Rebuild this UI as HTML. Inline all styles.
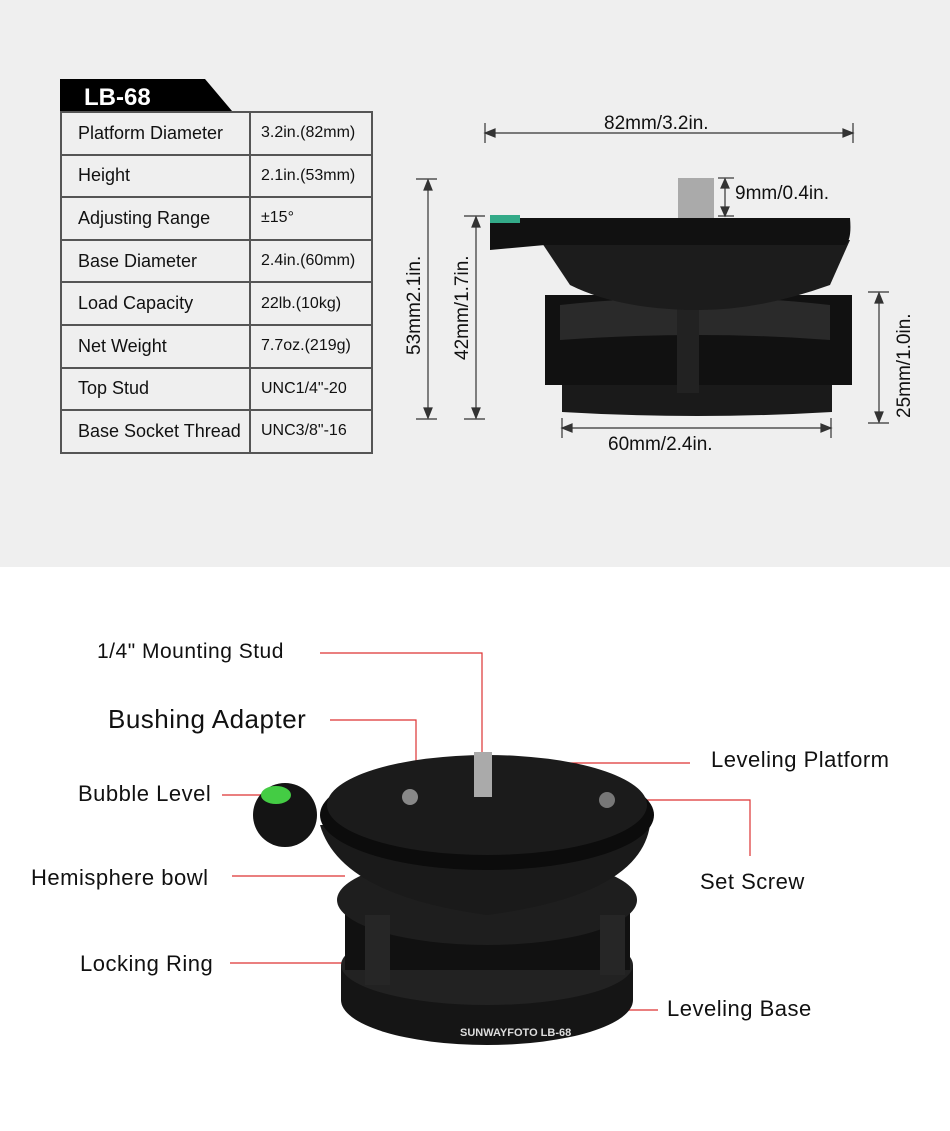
<!DOCTYPE html>
<html><head><style>
body{margin:0;width:950px;height:1131px;background:#fff;font-family:"Liberation Sans",sans-serif;position:relative;overflow:hidden}
.top{position:absolute;left:0;top:0;width:950px;height:567px;background:#efefef}
table{position:absolute;left:60px;top:111px;border-collapse:collapse;width:313px}
td{border:2px solid #555;height:40.6px;padding:0 0 0 16px;font-size:18px;color:#111;box-sizing:border-box}
tr{height:42.6px}
td.v{font-size:16px;padding-left:10px;width:122px}
.lbl{position:absolute;font-size:22px;color:#111;letter-spacing:.5px}
</style></head><body>
<div class="top"></div>
<svg style="position:absolute;left:0;top:0" width="950" height="1131">
<polygon points="60,79 205,79 232,111 60,111" fill="#000"/>
<text x="84" y="105" font-size="24" font-weight="bold" fill="#fff" font-family="Liberation Sans">LB-68</text>
<g stroke="#333" stroke-width="1.2" fill="#333">
<line x1="485" y1="133" x2="853" y2="133"/><line x1="485" y1="123" x2="485" y2="143"/><line x1="853" y1="123" x2="853" y2="143"/>
<polygon points="485,133 495,129 495,137"/><polygon points="853,133 843,129 843,137"/>
<line x1="428" y1="180" x2="428" y2="418"/><line x1="416" y1="179" x2="437" y2="179"/><line x1="416" y1="419" x2="437" y2="419"/>
<polygon points="428,180 424,190 432,190"/><polygon points="428,418 424,408 432,408"/>
<line x1="476" y1="217" x2="476" y2="418"/><line x1="464" y1="216" x2="485" y2="216"/><line x1="464" y1="419" x2="485" y2="419"/>
<polygon points="476,217 472,227 480,227"/><polygon points="476,418 472,408 480,408"/>
<line x1="725" y1="179" x2="725" y2="216"/><line x1="718" y1="178" x2="734" y2="178"/><line x1="718" y1="216" x2="734" y2="216"/>
<polygon points="725,179 721,188 729,188"/><polygon points="725,216 721,207 729,207"/>
<line x1="879" y1="293" x2="879" y2="422"/><line x1="868" y1="292" x2="889" y2="292"/><line x1="868" y1="423" x2="889" y2="423"/>
<polygon points="879,293 875,303 883,303"/><polygon points="879,422 875,412 883,412"/>
<line x1="562" y1="428" x2="831" y2="428"/><line x1="562" y1="418" x2="562" y2="438"/><line x1="831" y1="418" x2="831" y2="438"/>
<polygon points="562,428 572,424 572,432"/><polygon points="831,428 821,424 821,432"/>
</g>
<g font-family="Liberation Sans" font-size="19" fill="#111">
<text x="604" y="129">82mm/3.2in.</text>
<text x="735" y="199">9mm/0.4in.</text>
<text x="608" y="450">60mm/2.4in.</text>
<text transform="translate(420,355) rotate(-90)">53mm2.1in.</text>
<text transform="translate(468,360) rotate(-90)">42mm/1.7in.</text>
<text transform="translate(910,418) rotate(-90)">25mm/1.0in.</text>
</g>
<rect x="678" y="178" width="36" height="40" fill="#aaa"/>
<path d="M562,380 L832,380 L832,412 Q697,420 562,412 Z" fill="#1a1a1a"/>
<path d="M545,295 L852,295 L852,385 L545,385 Z" fill="#111"/>
<path d="M560,305 Q700,290 830,305 L830,340 Q700,330 560,340 Z" fill="#2a2a2a"/>
<rect x="677" y="308" width="22" height="85" fill="#222"/>
<path d="M540,240 Q700,230 850,240 L830,285 Q760,310 700,310 Q620,310 570,285 Z" fill="#1c1c1c"/>
<path d="M490,218 L850,218 Q852,240 845,245 L545,245 L490,250 Z" fill="#111"/>
<rect x="490" y="215" width="30" height="8" fill="#3a8"/>
<g stroke="#d33" stroke-width="1.2" fill="none">
<polyline points="320,653 482,653 482,760"/>
<polyline points="330,720 416,720 416,795"/>
<line x1="520" y1="763" x2="690" y2="763"/>
<line x1="222" y1="795" x2="270" y2="795"/>
<polyline points="610,800 750,800 750,856"/>
<line x1="232" y1="876" x2="345" y2="876"/>
<line x1="230" y1="963" x2="370" y2="963"/>
<line x1="600" y1="1010" x2="658" y2="1010"/>
</g>
<ellipse cx="487" cy="1000" rx="146" ry="45" fill="#151515"/>
<rect x="341" y="965" width="292" height="35" fill="#151515"/>
<ellipse cx="487" cy="965" rx="146" ry="40" fill="#222"/>
<rect x="345" y="900" width="285" height="70" fill="#111"/>
<ellipse cx="487" cy="900" rx="150" ry="45" fill="#1e1e1e"/>
<rect x="365" y="915" width="25" height="70" fill="#262626"/>
<rect x="600" y="915" width="25" height="60" fill="#262626"/>
<path d="M320,825 L650,825 Q640,895 487,915 Q340,895 320,825 Z" fill="#1a1a1a"/>
<ellipse cx="487" cy="815" rx="167" ry="55" fill="#0c0c0c"/>
<ellipse cx="487" cy="805" rx="160" ry="50" fill="#1b1b1b"/>
<circle cx="285" cy="815" r="32" fill="#141414"/>
<ellipse cx="276" cy="795" rx="15" ry="9" fill="#4c4"/>
<rect x="474" y="752" width="18" height="45" fill="#aaa"/>
<circle cx="410" cy="797" r="8" fill="#888"/>
<circle cx="607" cy="800" r="8" fill="#777"/>
<text x="460" y="1036" font-size="11" font-weight="bold" fill="#ddd" font-family="Liberation Sans">SUNWAYFOTO  LB-68</text>
</svg>
<table>
<tr><td>Platform Diameter</td><td class="v">3.2in.(82mm)</td></tr>
<tr><td>Height</td><td class="v">2.1in.(53mm)</td></tr>
<tr><td>Adjusting Range</td><td class="v">±15°</td></tr>
<tr><td>Base Diameter</td><td class="v">2.4in.(60mm)</td></tr>
<tr><td>Load Capacity</td><td class="v">22lb.(10kg)</td></tr>
<tr><td>Net Weight</td><td class="v">7.7oz.(219g)</td></tr>
<tr><td>Top Stud</td><td class="v">UNC1/4"-20</td></tr>
<tr><td>Base Socket Thread</td><td class="v">UNC3/8"-16</td></tr>
</table>
<div class="lbl" style="left:97px;top:640px;font-size:21px">1/4" Mounting Stud</div>
<div class="lbl" style="left:108px;top:704px;font-size:26px">Bushing Adapter</div>
<div class="lbl" style="left:711px;top:747px">Leveling Platform</div>
<div class="lbl" style="left:78px;top:781px">Bubble Level</div>
<div class="lbl" style="left:700px;top:869px">Set Screw</div>
<div class="lbl" style="left:31px;top:865px">Hemisphere bowl</div>
<div class="lbl" style="left:80px;top:951px">Locking Ring</div>
<div class="lbl" style="left:667px;top:996px">Leveling Base</div>
</body></html>
